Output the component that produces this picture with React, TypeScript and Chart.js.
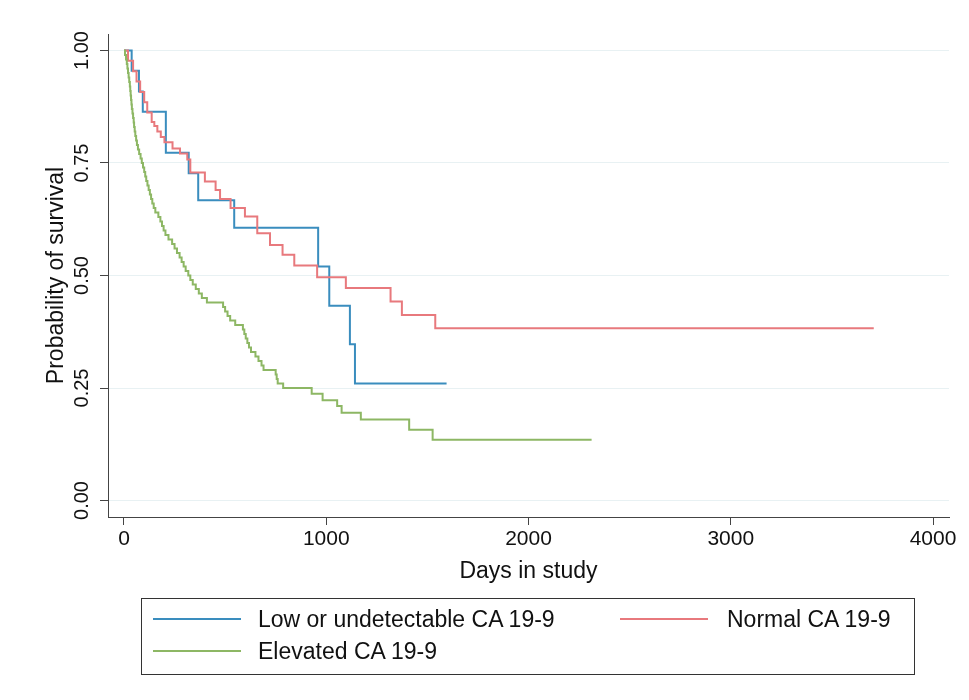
import React, { useEffect, useRef } from 'react';
import { Chart, registerables } from 'chart.js';

Chart.register(...registerables);

const FONT = '"Liberation Sans", Arial, Helvetica, sans-serif';

// Axis ticks
const xTicks = [0, 1000, 2000, 3000, 4000];
const yTicks = [0, 0.25, 0.5, 0.75, 1];
const yTickLabels = ['0.00', '0.25', '0.50', '0.75', '1.00'];

// Series labels
const seriesNames = ['Low or undetectable CA 19-9', 'Normal CA 19-9', 'Elevated CA 19-9'];
const seriesColors = ['#3A8DBE', '#E8797D', '#8DB764'];

// Low or undetectable CA 19-9
const lowDays = [0, 38, 74, 93, 207, 320, 367, 545, 960, 1015, 1117, 1142, 1595];
const lowSurv = [1.0, 0.955, 0.909, 0.864, 0.773, 0.727, 0.667, 0.606, 0.52, 0.433, 0.347, 0.26, 0.26];

// Normal CA 19-9
const normalDays = [0, 20, 45, 62, 80, 100, 115, 137, 150, 165, 182, 200, 240, 277, 313, 328, 400, 453, 475, 527, 598, 659, 722, 784, 842, 955, 1097, 1318, 1374, 1539, 3707];
const normalSurv = [1.0, 0.977, 0.954, 0.931, 0.908, 0.885, 0.862, 0.841, 0.832, 0.82, 0.808, 0.796, 0.782, 0.771, 0.758, 0.729, 0.709, 0.69, 0.67, 0.65, 0.631, 0.594, 0.568, 0.546, 0.522, 0.496, 0.472, 0.442, 0.412, 0.383, 0.383];

// Elevated CA 19-9
const elevDays = [0, 5, 10, 14, 17, 20, 23, 26, 29, 31, 33, 35, 37, 39, 42, 45, 48, 50, 53, 56, 60, 64, 69, 75, 82, 88, 94, 100, 105, 110, 116, 122, 128, 134, 140, 147, 155, 170, 180, 188, 196, 205, 220, 238, 250, 262, 275, 285, 295, 305, 318, 328, 340, 355, 370, 385, 410, 490, 500, 512, 525, 550, 588, 595, 602, 610, 618, 628, 650, 665, 680, 690, 750, 755, 760, 787, 928, 982, 1054, 1076, 1171, 1410, 1526, 2312];
const elevSurv = [1.0, 0.99, 0.98, 0.97, 0.96, 0.95, 0.94, 0.93, 0.92, 0.91, 0.9, 0.89, 0.88, 0.87, 0.86, 0.85, 0.84, 0.83, 0.82, 0.81, 0.8, 0.79, 0.78, 0.77, 0.76, 0.75, 0.74, 0.73, 0.72, 0.71, 0.7, 0.69, 0.68, 0.67, 0.66, 0.65, 0.64, 0.63, 0.62, 0.61, 0.6, 0.59, 0.58, 0.57, 0.56, 0.55, 0.54, 0.53, 0.52, 0.51, 0.5, 0.49, 0.48, 0.47, 0.46, 0.45, 0.44, 0.43, 0.42, 0.41, 0.4, 0.39, 0.38, 0.37, 0.36, 0.35, 0.34, 0.33, 0.32, 0.31, 0.3, 0.29, 0.28, 0.27, 0.26, 0.25, 0.237, 0.223, 0.21, 0.195, 0.18, 0.157, 0.135, 0.135];

const toPts = (xs: number[], ys: number[]) => xs.map((x, i) => ({ x, y: ys[i] }));

export default function App() {
  const ref = useRef<HTMLCanvasElement>(null);

  useEffect(() => {
    if (!ref.current) return;
    const yLabelPlugin = {
      id: 'yRotLabels',
      afterDraw(chart: any) {
        const ctx = chart.ctx;
        const ys = chart.scales.y;
        ctx.save();
        ctx.fillStyle = '#111';
        ctx.font = `20px ${FONT}`;
        ctx.textAlign = 'center';
        ctx.textBaseline = 'middle';
        yTicks.forEach((v, i) => {
          const py = ys.getPixelForValue(v);
          ctx.save();
          ctx.translate(82, py);
          ctx.rotate(-Math.PI / 2);
          ctx.fillText(yTickLabels[i], 0, 0);
          ctx.restore();
        });
        ctx.restore();
      },
    };

    const mk = (i: number, xs: number[], ys: number[]) => ({
      label: seriesNames[i],
      data: toPts(xs, ys),
      borderColor: seriesColors[i],
      backgroundColor: seriesColors[i],
      borderWidth: 2,
      pointRadius: 0,
      stepped: 'before' as const,
      fill: false,
    });

    const chart = new Chart(ref.current, {
      type: 'line',
      data: {
        datasets: [
          mk(2, elevDays, elevSurv),
          mk(1, normalDays, normalSurv),
          mk(0, lowDays, lowSurv),
        ],
      },
      options: {
        animation: false,
        responsive: false,
        layout: { padding: { left: 0, right: 20, top: 34, bottom: 113 } },
        plugins: { legend: { display: false }, tooltip: { enabled: false } },
        scales: {
          x: {
            type: 'linear',
            min: -79,
            max: 4079,
            afterBuildTicks: (s: any) => {
              s.ticks = xTicks.map((v) => ({ value: v }));
            },
            afterFit: (s: any) => {
              s.height = 70;
            },
            ticks: {
              font: { size: 21, family: FONT },
              color: '#111',
              padding: 2,
              maxRotation: 0,
              autoSkip: false,
              callback: (v: any) => String(v),
            },
            grid: { drawOnChartArea: false, tickLength: 8, color: '#444', tickColor: '#444' },
            border: { color: '#444', width: 1 },
            title: {
              display: true,
              text: 'Days in study',
              font: { size: 23, family: FONT },
              color: '#111',
              padding: { top: 0, bottom: 2 },
            },
          },
          y: {
            type: 'linear',
            min: -0.0366,
            max: 1.0366,
            afterBuildTicks: (s: any) => {
              s.ticks = yTicks.map((v) => ({ value: v }));
            },
            afterFit: (s: any) => {
              s.width = 108;
            },
            ticks: { display: false },
            grid: { color: '#E8F1F3', tickColor: '#444', tickLength: 8, lineWidth: 1 },
            border: { color: '#444', width: 1 },
            title: {
              display: true,
              text: 'Probability of survival',
              font: { size: 23, family: FONT },
              color: '#111',
              padding: { top: 43, bottom: 0 },
            },
          },
        },
      },
      plugins: [yLabelPlugin],
    } as any);

    return () => chart.destroy();
  }, []);

  const legendText: React.CSSProperties = {
    position: 'absolute',
    fontFamily: FONT,
    fontSize: 23,
    color: '#111',
    lineHeight: '26px',
    whiteSpace: 'nowrap',
  };
  const sample = (left: number, top: number, color: string): React.CSSProperties => ({
    position: 'absolute',
    left,
    top,
    width: 88,
    height: 2,
    background: color,
  });

  return (
    <div style={{ position: 'fixed', left: 0, top: 0, width: 969, height: 700, background: '#fff' }}>
      <canvas ref={ref} width={969} height={700} style={{ position: 'absolute', left: 0, top: 0 }} />
      <div
        style={{
          position: 'absolute',
          left: 141,
          top: 598,
          width: 774,
          height: 77,
          border: '1px solid #333',
          boxSizing: 'border-box',
        }}
      >
        <div style={sample(11, 19, seriesColors[0])} />
        <div style={{ ...legendText, left: 116, top: 7 }}>{seriesNames[0]}</div>
        <div style={sample(478, 19, seriesColors[1])} />
        <div style={{ ...legendText, left: 585, top: 7 }}>{seriesNames[1]}</div>
        <div style={sample(11, 51, seriesColors[2])} />
        <div style={{ ...legendText, left: 116, top: 39 }}>{seriesNames[2]}</div>
      </div>
    </div>
  );
}
